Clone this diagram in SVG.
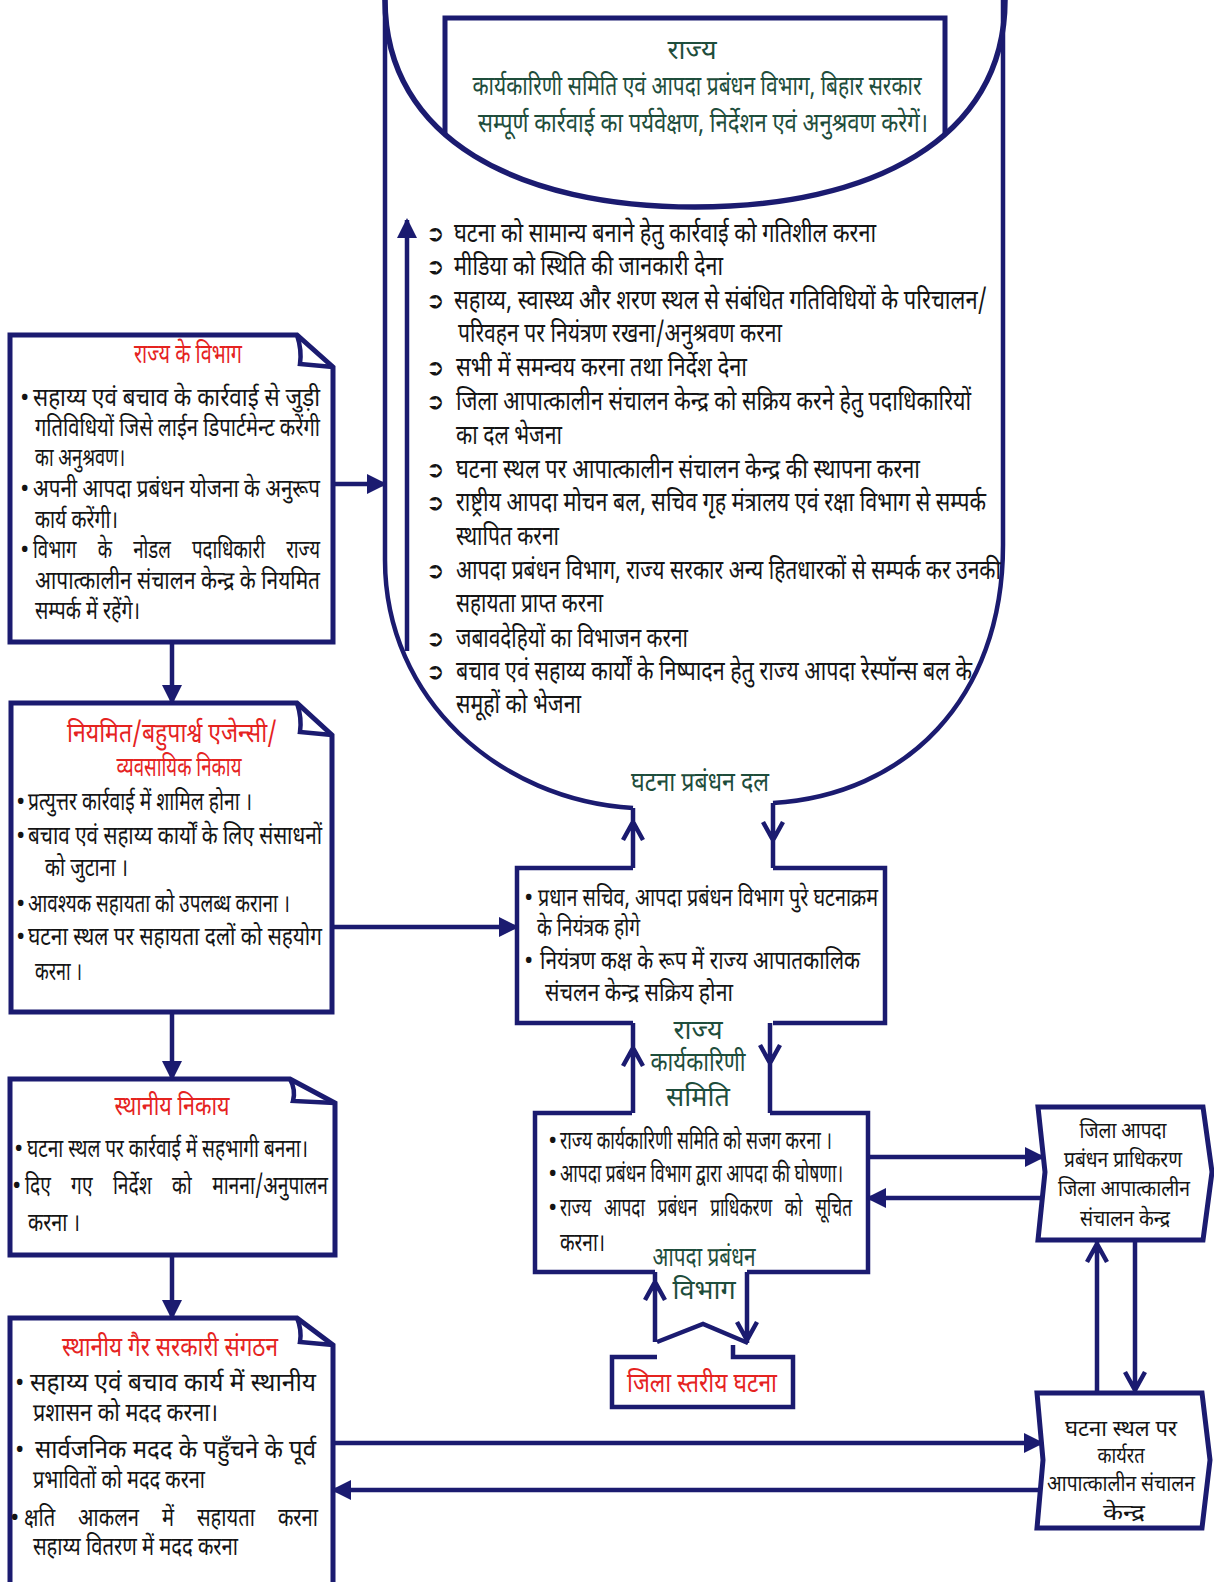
<svg xmlns="http://www.w3.org/2000/svg" width="1214" height="1582" viewBox="0 0 1214 1582">
<style>
.ln{fill:none;stroke:#1b1b70;stroke-width:4.5;stroke-linejoin:miter}
.bx{fill:#fff;stroke:#1b1b70;stroke-width:5}
.t{font-family:'Noto Sans Devanagari','Lohit Devanagari','Noto Sans',sans-serif;font-size:25px;fill:#141414}
.ts{font-family:'Noto Sans Devanagari','Lohit Devanagari','Noto Sans',sans-serif;font-size:22px;fill:#141414;text-anchor:middle}
.tl{font-family:'Noto Sans Devanagari','Lohit Devanagari','Noto Sans',sans-serif;font-size:27px;fill:#141414}
.g{font-family:'Noto Sans Devanagari','Lohit Devanagari','Noto Sans',sans-serif;font-size:27px;fill:#1e4d3b;text-anchor:middle}
.r{font-family:'Noto Sans Devanagari','Lohit Devanagari','Noto Sans',sans-serif;font-size:27px;fill:#e5231f;text-anchor:middle}
.sym{font-family:'DejaVu Sans',sans-serif;font-size:22px;fill:#141414;font-weight:bold}
</style>
<defs>
<marker id="tri" viewBox="0 0 10 10" markerUnits="userSpaceOnUse" markerWidth="20" markerHeight="22" refX="9" refY="5" orient="auto">
<path d="M0,0 L10,5 L0,10 Z" fill="#1b1b70"/>
</marker>
<clipPath id="arcclip">
<path d="M385,0 C385,140 520,207 695,207 C870,207 1005,140 1005,0 Z"/>
</clipPath>
</defs>
<rect width="1214" height="1582" fill="#fff"/>

<g id="state-container">
<path class="ln" d="M385,0 V560 C385,700 500,800 633,808"/>
<path class="ln" d="M1003,0 V545 C1003,700 905,795 773,803"/>
<rect x="445" y="18" width="500" height="200" fill="none" stroke="#1b1b70" stroke-width="5" clip-path="url(#arcclip)"/>
<path d="M385,0 C385,140 520,207 695,207 C870,207 1005,140 1005,0" fill="none" stroke="#1b1b70" stroke-width="5.5"/>
<text class="g" x="692" y="59">राज्य</text>
<text class="g" x="697" y="95" textLength="449" lengthAdjust="spacingAndGlyphs">कार्यकारिणी समिति एवं आपदा प्रबंधन विभाग, बिहार सरकार</text>
<text class="g" x="703" y="132" textLength="450" lengthAdjust="spacingAndGlyphs">सम्पूर्ण कार्रवाई का पर्यवेक्षण, निर्देशन एवं अनुश्रवण करेगें।</text>
<g class="sym">
<text x="426" y="241">➲</text><text x="426" y="274">➲</text><text x="426" y="308">➲</text>
<text x="426" y="375">➲</text><text x="426" y="409">➲</text><text x="426" y="477">➲</text>
<text x="426" y="510">➲</text><text x="426" y="578">➲</text><text x="426" y="646">➲</text>
<text x="426" y="679">➲</text>
</g>
<text class="tl" x="454" y="242" textLength="422" lengthAdjust="spacingAndGlyphs">घटना को सामान्य बनाने हेतु कार्रवाई को गतिशील करना</text>
<text class="tl" x="454" y="275" textLength="269" lengthAdjust="spacingAndGlyphs">मीडिया को स्थिति की जानकारी देना</text>
<text class="tl" x="454" y="309" textLength="533" lengthAdjust="spacingAndGlyphs">सहाय्य, स्वास्थ्य और शरण स्थल से संबंधित गतिविधियों के परिचालन/</text>
<text class="tl" x="458" y="342" textLength="324" lengthAdjust="spacingAndGlyphs">परिवहन पर नियंत्रण रखना/अनुश्रवण करना</text>
<text class="tl" x="456" y="376" textLength="291" lengthAdjust="spacingAndGlyphs">सभी में समन्वय करना तथा निर्देश देना</text>
<text class="tl" x="456" y="410" textLength="515" lengthAdjust="spacingAndGlyphs">जिला आपात्कालीन संचालन केन्द्र को सक्रिय करने हेतु पदाधिकारियों</text>
<text class="tl" x="456" y="444" textLength="106" lengthAdjust="spacingAndGlyphs">का दल भेजना</text>
<text class="tl" x="456" y="478" textLength="464" lengthAdjust="spacingAndGlyphs">घटना स्थल पर आपात्कालीन संचालन केन्द्र की स्थापना करना</text>
<text class="tl" x="456" y="511" textLength="530" lengthAdjust="spacingAndGlyphs">राष्ट्रीय आपदा मोचन बल, सचिव गृह मंत्रालय एवं रक्षा विभाग से सम्पर्क</text>
<text class="tl" x="456" y="545" textLength="103" lengthAdjust="spacingAndGlyphs">स्थापित करना</text>
<text class="tl" x="456" y="579" textLength="545" lengthAdjust="spacingAndGlyphs">आपदा प्रबंधन विभाग, राज्य सरकार अन्य हितधारकों से सम्पर्क कर उनकी</text>
<text class="tl" x="456" y="612" textLength="147" lengthAdjust="spacingAndGlyphs">सहायता प्राप्त करना</text>
<text class="tl" x="456" y="647" textLength="232" lengthAdjust="spacingAndGlyphs">जबावदेहियों का विभाजन करना</text>
<text class="tl" x="456" y="680" textLength="516" lengthAdjust="spacingAndGlyphs">बचाव एवं सहाय्य कार्यों के निष्पादन हेतु राज्य आपदा रेस्पॉन्स बल के</text>
<text class="tl" x="456" y="713" textLength="125" lengthAdjust="spacingAndGlyphs">समूहों को भेजना</text>
<text class="g" x="700" y="791" textLength="138" lengthAdjust="spacingAndGlyphs">घटना प्रबंधन दल</text>
</g>

<g id="state-departments">
<path class="bx" d="M10,335 H297 L333,367 V642 H10 Z"/>
<path class="ln" d="M297,335 Q302,350 300,364 L333,367"/>
<text class="r" x="188" y="363" textLength="108" lengthAdjust="spacingAndGlyphs">राज्य के विभाग</text>
<g class="t">
<text x="20" y="406">•</text><text x="33" y="406" textLength="287" lengthAdjust="spacingAndGlyphs">सहाय्य एवं बचाव के कार्रवाई से जुड़ी</text>
<text x="35" y="436" textLength="285" lengthAdjust="spacingAndGlyphs">गतिविधियों जिसे लाईन डिपार्टमेन्ट करेंगी</text>
<text x="35" y="466" textLength="90" lengthAdjust="spacingAndGlyphs">का अनुश्रवण।</text>
<text x="20" y="497">•</text><text x="33" y="497" textLength="287" lengthAdjust="spacingAndGlyphs">अपनी आपदा प्रबंधन योजना के अनुरूप</text>
<text x="35" y="528" textLength="83" lengthAdjust="spacingAndGlyphs">कार्य करेंगी।</text>
<text x="20" y="558">•</text><text x="33" y="558" style="word-spacing:22px" textLength="287" lengthAdjust="spacingAndGlyphs">विभाग के नोडल पदाधिकारी राज्य</text>
<text x="35" y="589" textLength="285" lengthAdjust="spacingAndGlyphs">आपात्कालीन संचालन केन्द्र के नियमित</text>
<text x="35" y="619" textLength="105" lengthAdjust="spacingAndGlyphs">सम्पर्क में रहेंगे।</text>
</g>
</g>

<g id="agencies">
<path class="bx" d="M11,703 H297 L332,735 V1012 H11 Z"/>
<path class="ln" d="M297,703 Q302,718 300,732 L332,735"/>
<text class="r" x="172" y="742" textLength="210" lengthAdjust="spacingAndGlyphs">नियमित/बहुपार्श्व एजेन्सी/</text>
<text class="r" x="179" y="776" textLength="125" lengthAdjust="spacingAndGlyphs">व्यवसायिक निकाय</text>
<g class="t">
<text x="16" y="810">•</text><text x="28" y="810" textLength="224" lengthAdjust="spacingAndGlyphs">प्रत्युत्तर कार्रवाई में शामिल होना ।</text>
<text x="16" y="844">•</text><text x="28" y="844" textLength="294" lengthAdjust="spacingAndGlyphs">बचाव एवं सहाय्य कार्यों के लिए संसाधनों</text>
<text x="45" y="876" textLength="83" lengthAdjust="spacingAndGlyphs">को जुटाना ।</text>
<text x="16" y="912">•</text><text x="28" y="912" textLength="262" lengthAdjust="spacingAndGlyphs">आवश्यक सहायता को उपलब्ध कराना ।</text>
<text x="16" y="945">•</text><text x="28" y="945" textLength="294" lengthAdjust="spacingAndGlyphs">घटना स्थल पर सहायता दलों को सहयोग</text>
<text x="35" y="980" textLength="47" lengthAdjust="spacingAndGlyphs">करना ।</text>
</g>
</g>

<g id="local-bodies">
<path class="bx" d="M10,1079 H290 L335,1103 V1255 H10 Z"/>
<path class="ln" d="M290,1079 Q296,1090 293,1101 L335,1103"/>
<text class="r" x="172" y="1115" textLength="115" lengthAdjust="spacingAndGlyphs">स्थानीय निकाय</text>
<g class="t">
<text x="14" y="1157">•</text><text x="27" y="1157" textLength="281" lengthAdjust="spacingAndGlyphs">घटना स्थल पर कार्रवाई में सहभागी बनना।</text>
<text x="12" y="1194">•</text><text x="25" y="1194" style="word-spacing:20px" textLength="303" lengthAdjust="spacingAndGlyphs">दिए गए निर्देश को मानना/अनुपालन</text>
<text x="28" y="1231" textLength="52" lengthAdjust="spacingAndGlyphs">करना ।</text>
</g>
</g>

<g id="local-ngo">
<path class="bx" d="M10,1318 H297 L333,1345 V1595 H10 Z"/>
<path class="ln" d="M297,1318 Q302,1330 300,1342 L333,1345"/>
<text class="r" x="170" y="1356" textLength="216" lengthAdjust="spacingAndGlyphs">स्थानीय गैर सरकारी संगठन</text>
<g class="t">
<text x="15" y="1391">•</text><text x="30" y="1391" textLength="286" lengthAdjust="spacingAndGlyphs">सहाय्य एवं बचाव कार्य में स्थानीय</text>
<text x="33" y="1421" textLength="185" lengthAdjust="spacingAndGlyphs">प्रशासन  को मदद करना।</text>
<text x="15" y="1458">•</text><text x="35" y="1458" textLength="281" lengthAdjust="spacingAndGlyphs">सार्वजनिक मदद के पहुँचने के पूर्व</text>
<text x="33" y="1488" textLength="172" lengthAdjust="spacingAndGlyphs">प्रभावितों को मदद करना</text>
<text x="10" y="1526">•</text><text x="24" y="1526" style="word-spacing:22px" textLength="294" lengthAdjust="spacingAndGlyphs">क्षति आकलन में सहायता करना</text>
<text x="33" y="1555" textLength="205" lengthAdjust="spacingAndGlyphs">सहाय्य वितरण में मदद करना</text>
</g>
</g>

<g id="principal-secretary">
<path class="ln" d="M633,868 H517 V1023 H633 M773,868 H885 V1023 H773" stroke-width="5"/>
<g class="t">
<text x="524" y="906">•</text><text x="538" y="906" textLength="340" lengthAdjust="spacingAndGlyphs">प्रधान सचिव, आपदा प्रबंधन विभाग पुरे घटनाक्रम</text>
<text x="537" y="936" textLength="103" lengthAdjust="spacingAndGlyphs">के नियंत्रक होगे</text>
<text x="524" y="969">•</text><text x="540" y="969" textLength="320" lengthAdjust="spacingAndGlyphs">नियंत्रण कक्ष के रूप में राज्य आपातकालिक</text>
<text x="545" y="1001" textLength="188" lengthAdjust="spacingAndGlyphs">संचलन केन्द्र सक्रिय होना</text>
</g>
<text class="g" x="698" y="1039">राज्य</text>
<text class="g" x="698" y="1071" textLength="95" lengthAdjust="spacingAndGlyphs">कार्यकारिणी</text>
<text class="g" x="698" y="1106">समिति</text>
</g>

<g id="state-executive">
<path class="ln" d="M632,1113 H535 V1272 H655 M770,1113 H868 V1272 H747" stroke-width="5"/>
<g class="t">
<text x="548" y="1149">•</text><text x="560" y="1149" textLength="272" lengthAdjust="spacingAndGlyphs">राज्य कार्यकारिणी समिति को सजग करना ।</text>
<text x="548" y="1182">•</text><text x="560" y="1182" textLength="283" lengthAdjust="spacingAndGlyphs">आपदा प्रबंधन विभाग द्वारा आपदा की घोषणा।</text>
<text x="548" y="1216">•</text><text x="560" y="1216" style="word-spacing:12px" textLength="292" lengthAdjust="spacingAndGlyphs">राज्य आपदा प्रबंधन प्राधिकरण को सूचित</text>
<text x="560" y="1251" textLength="45" lengthAdjust="spacingAndGlyphs">करना।</text>
</g>
<text class="g" x="704" y="1266" textLength="103" lengthAdjust="spacingAndGlyphs">आपदा प्रबंधन</text>
<text class="g" x="704" y="1299">विभाग</text>
</g>

<g id="district-incident">
<path class="ln" d="M657,1357 H612 V1407 H793 V1357 H733 V1345" stroke-width="5"/>
<path class="ln" d="M657,1342 L703,1324 L748,1343" stroke-width="5"/>
<text class="r" x="702" y="1392" textLength="150" lengthAdjust="spacingAndGlyphs">जिला स्तरीय घटना</text>
</g>

<g id="district-authority">
<path class="bx" d="M1038,1107 H1203 L1212,1172 L1203,1240 H1038 L1045,1172 Z"/>
<g class="ts">
<text x="1123" y="1138" textLength="87" lengthAdjust="spacingAndGlyphs">जिला आपदा</text>
<text x="1123" y="1167" textLength="118" lengthAdjust="spacingAndGlyphs">प्रबंधन प्राधिकरण</text>
<text x="1124" y="1196" textLength="132" lengthAdjust="spacingAndGlyphs">जिला आपात्कालीन</text>
<text x="1125" y="1226" textLength="90" lengthAdjust="spacingAndGlyphs">संचालन केन्द्र</text>
</g>
</g>

<g id="site-eoc">
<path class="bx" d="M1037,1393 H1202 L1210,1460 L1202,1528 H1037 L1043,1460 Z"/>
<g class="ts">
<text x="1121" y="1436" textLength="112" lengthAdjust="spacingAndGlyphs">घटना स्थल पर</text>
<text x="1121" y="1463" textLength="47" lengthAdjust="spacingAndGlyphs">कार्यरत</text>
<text x="1121" y="1491" textLength="148" lengthAdjust="spacingAndGlyphs">आपात्कालीन संचालन</text>
<text x="1124" y="1520" textLength="42" lengthAdjust="spacingAndGlyphs">केन्द्र</text>
</g>
</g>

<g id="connectors">
<path class="ln" d="M407,651 V220" marker-end="url(#tri)" stroke-width="3.5"/>
<path class="ln" d="M333,484 H385" marker-end="url(#tri)"/>
<path class="ln" d="M172,642 V703" marker-end="url(#tri)"/>
<path class="ln" d="M332,927 H517" marker-end="url(#tri)"/>
<path class="ln" d="M172,1012 V1079" marker-end="url(#tri)"/>
<path class="ln" d="M172,1255 V1318" marker-end="url(#tri)"/>
<path class="ln" d="M868,1157 H1043" marker-end="url(#tri)"/>
<path class="ln" d="M1043,1198 H868" marker-end="url(#tri)"/>
<path class="ln" d="M333,1443 H1042" marker-end="url(#tri)"/>
<path class="ln" d="M1040,1490 H333" marker-end="url(#tri)"/>
<path class="ln" d="M633,808 V868 M623,840 L633,822 L643,840"/>
<path class="ln" d="M773,803 V868 M763,822 L773,840 L783,822"/>
<path class="ln" d="M633,1023 V1113 M623,1066 L633,1048 L643,1066"/>
<path class="ln" d="M770,1023 V1113 M760,1045 L770,1063 L780,1045"/>
<path class="ln" d="M655,1272 V1342 M645,1300 L655,1282 L665,1300"/>
<path class="ln" d="M747,1272 V1343 M737,1322 L747,1340 L757,1322"/>
<path class="ln" d="M1097,1393 V1240 M1087,1262 L1097,1244 L1107,1262"/>
<path class="ln" d="M1135,1240 V1393 M1125,1372 L1135,1390 L1145,1372"/>
</g>
</svg>
